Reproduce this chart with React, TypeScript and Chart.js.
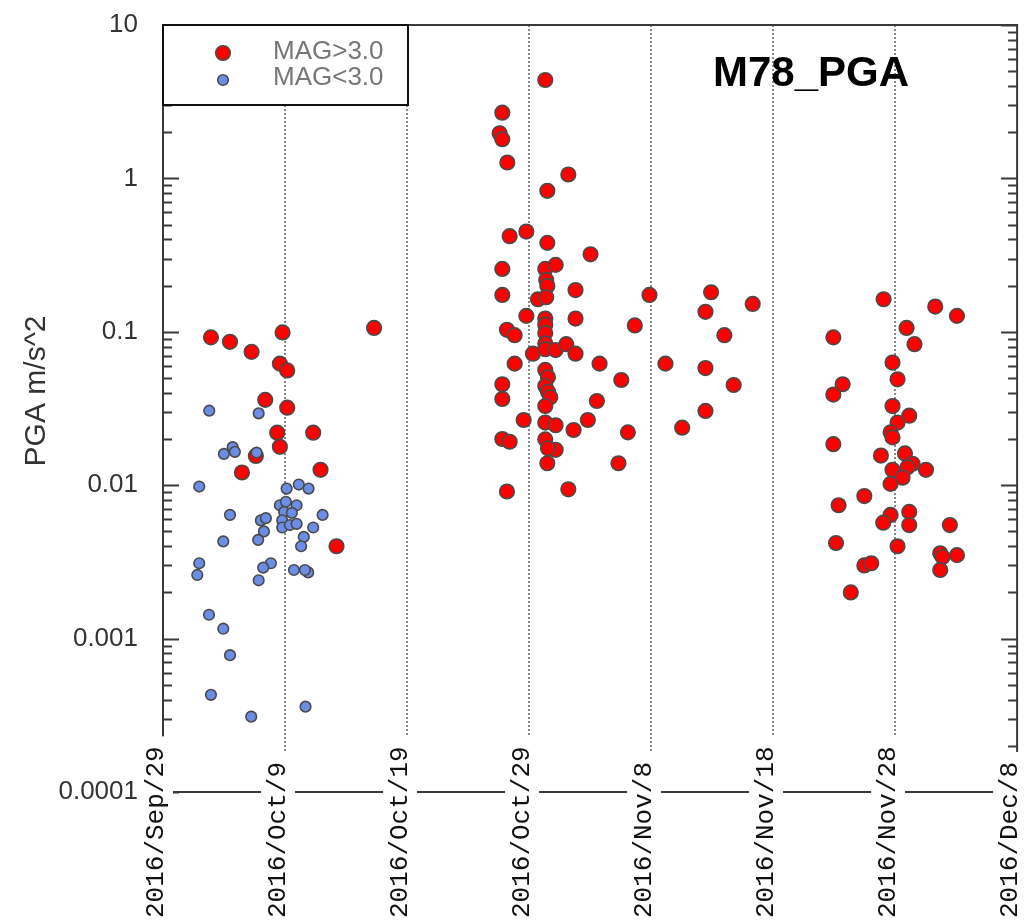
import React, { useEffect, useRef } from "react";
import { Chart, registerables } from "chart.js";

Chart.register(...registerables);

// ---------- data ----------
const START_UTC = Date.UTC(2016, 8, 29); // 2016/Sep/29 = day 0
const MONTHS = ["Jan", "Feb", "Mar", "Apr", "May", "Jun", "Jul", "Aug", "Sep", "Oct", "Nov", "Dec"];
const xTickDays = [0, 10, 20, 30, 40, 50, 60, 70];
const yTickValues = [0.0001, 0.001, 0.01, 0.1, 1, 10];
const seriesLabels = ["MAG>3.0", "MAG<3.0"];
const chartTitle = "M78_PGA";
const yAxisTitle = "PGA m/s^2";

// MAG>3.0 (days since 2016/Sep/29, PGA m/s^2)
const bigDays = [
  3.93, 5.49, 7.26, 9.8, 9.58, 10.18, 8.38, 10.18, 9.36, 12.31, 9.58, 7.61, 6.47, 12.91, 17.3, 14.22,
  31.33, 27.81, 27.59, 27.81, 28.22, 33.22, 31.5, 28.41, 29.78, 31.5, 35.04, 27.81, 31.33, 32.18, 31.41, 31.5,
  27.81, 33.81, 39.87, 30.73, 31.41, 29.78, 31.33, 33.81, 38.67, 28.19, 28.82, 31.33, 31.33, 31.33, 30.32, 31.33,
  32.18, 33.05, 33.81, 35.78, 28.82, 37.56, 27.81, 27.81, 31.33, 31.55, 31.33, 31.55, 31.74, 35.56, 31.33, 34.82,
  29.56, 31.33, 32.18, 33.65, 38.1, 27.81, 28.41, 31.33, 32.18, 31.55, 31.5, 37.33, 28.19, 33.22,
  44.92, 48.33, 44.46, 46.01, 41.18, 44.46, 46.77, 44.46, 42.55,
  59.06, 63.29, 65.07, 60.94, 54.94, 61.59, 59.79, 60.2, 55.7, 54.94, 59.79, 61.16, 60.2, 59.63, 59.79, 54.94,
  58.84, 60.81, 61.43, 61.02, 62.53, 59.79, 60.61, 59.63, 57.48, 55.37, 59.63, 59.03, 61.16, 61.16, 64.49, 55.16,
  60.2, 63.7, 65.07, 63.89, 57.48, 58.05, 63.7, 56.37,
];
const bigPGA = [
  0.092, 0.086, 0.074, 0.099, 0.062, 0.056, 0.036, 0.032, 0.022, 0.022, 0.0178, 0.0155, 0.0121, 0.0126, 0.106, 0.004,
  4.38, 2.68, 1.97, 1.8, 1.27, 1.06, 0.83, 0.42, 0.45, 0.38, 0.32, 0.257, 0.257, 0.273, 0.218, 0.199,
  0.174, 0.187, 0.174, 0.163, 0.168, 0.127, 0.122, 0.122, 0.11, 0.103, 0.095, 0.111, 0.098, 0.084, 0.072, 0.077,
  0.076, 0.083, 0.072, 0.062, 0.062, 0.0485, 0.0455, 0.0365, 0.0564, 0.0505, 0.0443, 0.0407, 0.0374, 0.0354, 0.0328, 0.0266,
  0.0266, 0.0256, 0.0246, 0.0229, 0.0221, 0.02, 0.0192, 0.0199, 0.017, 0.0174, 0.0139, 0.0139, 0.0091, 0.0094,
  0.181, 0.152, 0.135, 0.095, 0.062, 0.058, 0.045, 0.0305, 0.0237,
  0.163, 0.146, 0.127, 0.106, 0.092, 0.083, 0.063, 0.049, 0.0455, 0.039, 0.0328, 0.0284, 0.0256, 0.0221, 0.0205, 0.0185,
  0.0156, 0.0161, 0.0138, 0.0131, 0.0126, 0.0126, 0.0112, 0.0102, 0.0085, 0.0074, 0.0064, 0.0057, 0.0067, 0.0055, 0.0055, 0.0042,
  0.004, 0.0036, 0.0035, 0.0034, 0.003, 0.0031, 0.0028, 0.002,
];

// MAG<3.0
const smallDays = [
  3.79, 7.84, 4.99, 5.71, 5.89, 7.67, 2.97, 10.13, 11.13, 11.93, 9.58, 10.07, 10.95, 9.93, 10.56, 9.77,
  9.77, 10.4, 10.95, 13.08, 12.31, 11.54, 11.32, 5.49, 8.02, 8.43, 8.27, 7.8, 4.94, 2.97, 2.81, 8.84,
  8.21, 7.84, 10.73, 11.9, 11.63, 3.77, 4.94, 5.49, 3.93, 7.23, 11.68,
];
const smallPGA = [
  0.0306, 0.0294, 0.016, 0.0177, 0.0165, 0.0163, 0.0098, 0.0095, 0.0101, 0.0095, 0.0074, 0.0078, 0.0074, 0.0067, 0.0066, 0.0059,
  0.0053, 0.0055, 0.0056, 0.0064, 0.0053, 0.0046, 0.004, 0.0064, 0.0059, 0.0061, 0.005, 0.0044, 0.0043, 0.0031, 0.0026, 0.0031,
  0.0029, 0.0024, 0.0028, 0.0027, 0.0028, 0.00143, 0.00116, 0.00078, 0.00043, 0.00031, 0.00036,
];

// ---------- helpers ----------
function dayLabel(d: number): string {
  const dt = new Date(START_UTC + d * 86400000);
  return `${dt.getUTCFullYear()}/${MONTHS[dt.getUTCMonth()]}/${dt.getUTCDate()}`;
}

const AXIS_COLOR = "#3a3a3a";
const SANS = '"Liberation Sans", Arial, Helvetica, sans-serif';
const MONO = '"Liberation Mono", "DejaVu Sans Mono", monospace';

const decorPlugin = {
  id: "decor",
  beforeDatasetsDraw(chart: any) {
    const { ctx, chartArea: a, scales } = chart;
    const x = scales.x;
    ctx.save();
    ctx.strokeStyle = "#6a6a6a";
    ctx.lineWidth = 1.6;
    ctx.setLineDash([2, 2]);
    for (const t of x.ticks) {
      if (t.value <= x.min || t.value >= x.max) continue;
      const px = Math.round(x.getPixelForValue(t.value));
      ctx.beginPath();
      ctx.moveTo(px, a.top);
      ctx.lineTo(px, a.bottom);
      ctx.stroke();
    }
    ctx.restore();
  },
  afterDatasetsDraw(chart: any) {
    const { ctx, chartArea: a, scales } = chart;
    const x = scales.x;
    const y = scales.y;
    ctx.save();

    // frame
    ctx.strokeStyle = AXIS_COLOR;
    ctx.lineWidth = 2;
    ctx.setLineDash([]);
    ctx.strokeRect(a.left, a.top, a.right - a.left, a.bottom - a.top);

    // log ticks (inward) on left and right
    for (let e = -4; e <= 1; e++) {
      for (let m = 1; m <= 9; m++) {
        const v = m * Math.pow(10, e);
        if (v < y.min * 0.999 || v > y.max * 1.001) continue;
        const py = Math.round(y.getPixelForValue(v)) + 0.5;
        const len = m === 1 ? 16 : 9;
        ctx.beginPath();
        ctx.moveTo(a.left, py);
        ctx.lineTo(a.left + len, py);
        ctx.moveTo(a.right, py);
        ctx.lineTo(a.right - len, py);
        ctx.stroke();
      }
    }

    // legend box
    const lx0 = a.left, ly0 = a.top, lx1 = 408, ly1 = 105;
    ctx.fillStyle = "#ffffff";
    ctx.fillRect(lx0, ly0, lx1 - lx0, ly1 - ly0);
    ctx.strokeStyle = "#111";
    ctx.lineWidth = 2;
    ctx.strokeRect(lx0, ly0, lx1 - lx0, ly1 - ly0);
    const rows = [
      { ds: chart.data.datasets[0], cy: 53, base: 59 },
      { ds: chart.data.datasets[1], cy: 80, base: 85 },
    ];
    for (const r of rows) {
      ctx.beginPath();
      ctx.arc(223, r.cy, r.ds.pointRadius, 0, Math.PI * 2);
      ctx.fillStyle = r.ds.pointBackgroundColor;
      ctx.fill();
      ctx.lineWidth = r.ds.pointBorderWidth;
      ctx.strokeStyle = r.ds.pointBorderColor;
      ctx.stroke();
      ctx.fillStyle = "#777";
      ctx.font = `26px ${SANS}`;
      ctx.textAlign = "left";
      ctx.textBaseline = "alphabetic";
      ctx.fillText(r.ds.label, 273, r.base);
    }

    // title
    ctx.fillStyle = "#000";
    ctx.font = `bold 42px ${SANS}`;
    ctx.textAlign = "center";
    ctx.textBaseline = "alphabetic";
    ctx.fillText(chartTitle, 811, 86);

    // y axis title
    ctx.save();
    ctx.translate(37, 391);
    ctx.rotate(-Math.PI / 2);
    ctx.fillStyle = "#333";
    ctx.font = `30px ${SANS}`;
    ctx.textAlign = "center";
    ctx.textBaseline = "middle";
    ctx.fillText(yAxisTitle, 0, 0);
    ctx.restore();

    // x tick labels (rotated, with white backdrop)
    ctx.font = `26px ${MONO}`;
    for (const t of x.ticks) {
      const label = dayLabel(t.value);
      const w = ctx.measureText(label).width;
      const px = x.getPixelForValue(t.value) - 7;
      ctx.save();
      ctx.translate(px, 918);
      ctx.rotate(-Math.PI / 2);
      ctx.fillStyle = "#ffffff";
      ctx.fillRect(-4, -17, w + 14, 34);
      ctx.fillStyle = "#111";
      ctx.textAlign = "left";
      ctx.textBaseline = "middle";
      ctx.fillText(label, 0, 0);
      ctx.restore();
    }
    ctx.restore();
  },
};

export default function App() {
  const canvasRef = useRef<HTMLCanvasElement | null>(null);

  useEffect(() => {
    const canvas = canvasRef.current;
    if (!canvas) return;
    const chart = new Chart(canvas, {
      type: "scatter",
      data: {
        datasets: [
          {
            label: seriesLabels[0],
            data: bigDays.map((d, i) => ({ x: d, y: bigPGA[i] })),
            pointRadius: 7.3,
            pointHoverRadius: 7.3,
            pointBackgroundColor: "#ff0000",
            pointBorderColor: "#4a4a4a",
            pointBorderWidth: 1.6,
            order: 1,
          },
          {
            label: seriesLabels[1],
            data: smallDays.map((d, i) => ({ x: d, y: smallPGA[i] })),
            pointRadius: 5.3,
            pointHoverRadius: 5.3,
            pointBackgroundColor: "#6b8de6",
            pointBorderColor: "#4a4a4a",
            pointBorderWidth: 1.6,
            order: 0,
          },
        ],
      },
      options: {
        responsive: false,
        maintainAspectRatio: false,
        animation: false,
        devicePixelRatio: 1,
        layout: { padding: { top: 25, right: 8, left: 0, bottom: 0 } },
        plugins: {
          legend: { display: false },
          tooltip: { enabled: false },
          title: { display: false },
        },
        scales: {
          x: {
            type: "linear",
            position: "bottom",
            min: xTickDays[0],
            max: xTickDays[xTickDays.length - 1],
            afterBuildTicks: (s: any) => {
              s.ticks = xTickDays.map((v) => ({ value: v }));
            },
            afterFit: (s: any) => {
              s.height = 131;
              s.paddingLeft = 0;
              s.paddingRight = 0;
            },
            ticks: { display: false },
            grid: { display: false, drawTicks: false },
            border: { display: false },
          },
          y: {
            type: "logarithmic",
            position: "left",
            min: yTickValues[0],
            max: yTickValues[yTickValues.length - 1],
            afterBuildTicks: (s: any) => {
              s.ticks = yTickValues.map((v) => ({ value: v }));
            },
            afterFit: (s: any) => {
              s.width = 163;
              s.paddingTop = 0;
              s.paddingBottom = 0;
            },
            ticks: {
              color: "#333",
              padding: 25,
              font: { family: SANS, size: 26 },
              callback: (v: any) => String(v),
            },
            grid: { display: false, drawTicks: false, tickLength: 0 },
            border: { display: false },
          },
        },
      },
      plugins: [decorPlugin],
    });
    return () => chart.destroy();
  }, []);

  return (
    <div style={{ position: "absolute", left: 0, top: 0, width: 1026, height: 923, background: "#fff" }}>
      <canvas ref={canvasRef} width={1026} height={923} style={{ width: 1026, height: 923, display: "block" }} />
    </div>
  );
}
